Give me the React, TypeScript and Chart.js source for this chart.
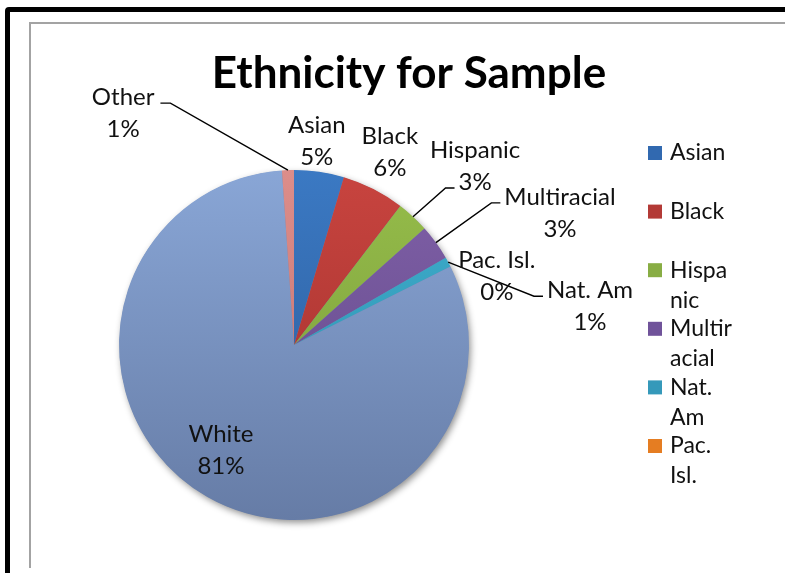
import { useEffect, useRef } from "react";
import { Chart, registerables } from "chart.js";

Chart.register(...registerables);

// ---- data ----
const categories = ["Asian", "Black", "Hispanic", "Multiracial", "Nat. Am", "Pac. Isl.", "White", "Other"];
const shares = [4.6, 5.8, 3.0, 3.3, 0.9, 0.0, 81.3, 1.1];
const titleText = "Ethnicity for Sample";

// ---- styles ----
const topColors = ["#3b79c3", "#c8443f", "#96bd4a", "#8060a8", "#3fb0cf", "#f28d33", "#89a6d6", "#dc8d8a"];
const bottomColors = ["#2a5996", "#9e2f2b", "#76983a", "#5f4785", "#2c8aa8", "#d46f18", "#667ca6", "#c06e6b"];
const legendColors = ["#3169b0", "#b33a36", "#88ad44", "#70539a", "#3599ba", "#e57d22", "#7a94c2", "#d07e7b"];

// label placement: radial factor of radius, angular shift (deg, clockwise), leader line info
const labelK = [1.171, 1.232, 1.455, 1.697, 1.706, 1.223, 0.731, 1.646];
const labelShift = [-1.9, -0.6, 2.5, 9.4, 20.8, 8.0, 5.1, -34.4];
const labelLeader = [false, false, true, true, true, false, false, true];
const leaderLine = [0, 0, 1, 0, 0, 0, 0, 0];

const FONT = "Lato, 'Open Sans', sans-serif";

function wrap(ctx: CanvasRenderingContext2D, text: string, maxW: number): string[] {
  const words = text.split(" ");
  const lines: string[] = [];
  let cur = "";
  for (const w of words) {
    const trial = cur ? cur + " " + w : w;
    if (ctx.measureText(trial).width <= maxW) {
      cur = trial;
      continue;
    }
    if (cur) lines.push(cur);
    cur = "";
    let piece = "";
    for (const ch of w) {
      if (ctx.measureText(piece + ch).width > maxW && piece) {
        lines.push(piece);
        piece = ch;
      } else piece += ch;
    }
    cur = piece;
  }
  if (cur) lines.push(cur);
  return lines;
}

const annotate = {
  id: "annotate",
  beforeDatasetsDraw(chart: any) {
    const meta = chart.getDatasetMeta(0);
    if (!meta.data.length) return;
    const { x, y, outerRadius } = meta.data[0].getProps(["x", "y", "outerRadius"], true);
    const ctx = chart.ctx;
    ctx.save();
    ctx.shadowColor = "rgba(0,0,0,0.45)";
    ctx.shadowBlur = 7;
    ctx.shadowOffsetX = 2;
    ctx.shadowOffsetY = 3;
    ctx.fillStyle = "#6f86b0";
    ctx.beginPath();
    ctx.arc(x, y, outerRadius - 0.5, 0, Math.PI * 2);
    ctx.fill();
    ctx.restore();
  },
  afterDraw(chart: any) {
    const ctx: CanvasRenderingContext2D = chart.ctx;
    const meta = chart.getDatasetMeta(0);
    const values: number[] = chart.data.datasets[0].data;
    const total = values.reduce((a, b) => a + b, 0);
    ctx.save();

    // title
    ctx.fillStyle = "#000";
    ctx.font = `bold 44px ${FONT}`;
    ctx.textAlign = "center";
    ctx.textBaseline = "alphabetic";
    ctx.fillText(titleText, 409, 88);

    // data labels
    ctx.font = `24px ${FONT}`;
    ctx.textBaseline = "middle";
    const lh = 32;
    meta.data.forEach((arc: any, i: number) => {
      const p = arc.getProps(["x", "y", "startAngle", "endAngle", "outerRadius"], true);
      const mid = (p.startAngle + p.endAngle) / 2;
      const a = mid + (labelShift[i] * Math.PI) / 180;
      const R = p.outerRadius * labelK[i];
      const cx = p.x + R * Math.cos(a);
      const cy = p.y + R * Math.sin(a);
      const lines = [String(chart.data.labels[i]), Math.round((values[i] / total) * 100) + "%"];
      ctx.fillStyle = "#111";
      ctx.textAlign = "center";
      lines.forEach((t, j) => ctx.fillText(t, cx, cy + (j - 0.5) * lh));
      if (labelLeader[i]) {
        const li = leaderLine[i];
        const w = ctx.measureText(lines[li]).width;
        const ly = cy + (li - 0.5) * lh + 6;
        const onLeft = cx > p.x; // label right of the pie: attach to its left side
        const ax = onLeft ? cx - w / 2 - 4 : cx + w / 2 + 6;
        const bx = onLeft ? ax - 9 : ax + 10;
        const ex = p.x + p.outerRadius * Math.cos(mid);
        const ey = p.y + p.outerRadius * Math.sin(mid);
        ctx.strokeStyle = "#000";
        ctx.lineWidth = 1.4;
        ctx.beginPath();
        ctx.moveTo(ax, ly);
        ctx.lineTo(bx, ly);
        ctx.lineTo(ex, ey);
        ctx.stroke();
      }
    });

    // legend
    ctx.font = `23px ${FONT}`;
    ctx.textAlign = "left";
    const lx = 648;
    let ly = 153;
    const step = 58.6;
    const innerLh = 30;
    for (let i = 0; i < categories.length; i++) {
      if (ly > 480) break;
      const lines = wrap(ctx, String(chart.data.labels[i]), 66);
      ctx.fillStyle = legendColors[i];
      ctx.fillRect(lx, ly - 7, 14, 14);
      ctx.fillStyle = "#111";
      lines.forEach((t, j) => ctx.fillText(t, lx + 22, ly + j * innerLh));
      ly += step;
    }
    ctx.restore();
  },
};

export default function App() {
  const ref = useRef<HTMLCanvasElement | null>(null);
  useEffect(() => {
    if (!ref.current) return;
    const chart = new Chart(ref.current, {
      type: "pie",
      data: {
        labels: categories,
        datasets: [
          {
            data: shares,
            borderWidth: 0,
            backgroundColor: (c: any) => {
              const ch = c.chart;
              const area = ch.chartArea;
              const i = c.dataIndex ?? 0;
              if (!area) return topColors[i];
              const g = ch.ctx.createLinearGradient(0, area.top, 0, area.bottom);
              g.addColorStop(0, topColors[i]);
              g.addColorStop(1, bottomColors[i]);
              return g;
            },
          },
        ],
      },
      options: {
        animation: false,
        responsive: false,
        devicePixelRatio: 1,
        layout: { padding: { top: 170, bottom: 53, left: 119, right: 316 } },
        plugins: {
          legend: { display: false },
          title: { display: false },
          tooltip: { enabled: false },
        },
      },
      plugins: [annotate],
    });
    return () => chart.destroy();
  }, []);

  return (
    <div style={{ position: "fixed", left: 0, top: 0, width: 785, height: 573, overflow: "hidden", background: "#fff" }}>
      <div
        style={{
          position: "absolute",
          left: 5,
          top: 7,
          width: 900,
          height: 700,
          border: "5px solid #000",
          borderRadius: 4,
          boxSizing: "border-box",
        }}
      />
      <div
        style={{
          position: "absolute",
          left: 29,
          top: 22,
          width: 900,
          height: 546,
          borderLeft: "2px solid #a3a3a3",
          borderTop: "2px solid #a3a3a3",
          boxSizing: "border-box",
        }}
      />
      <canvas ref={ref} width={785} height={573} style={{ position: "absolute", left: 0, top: 0, width: 785, height: 573 }} />
    </div>
  );
}
